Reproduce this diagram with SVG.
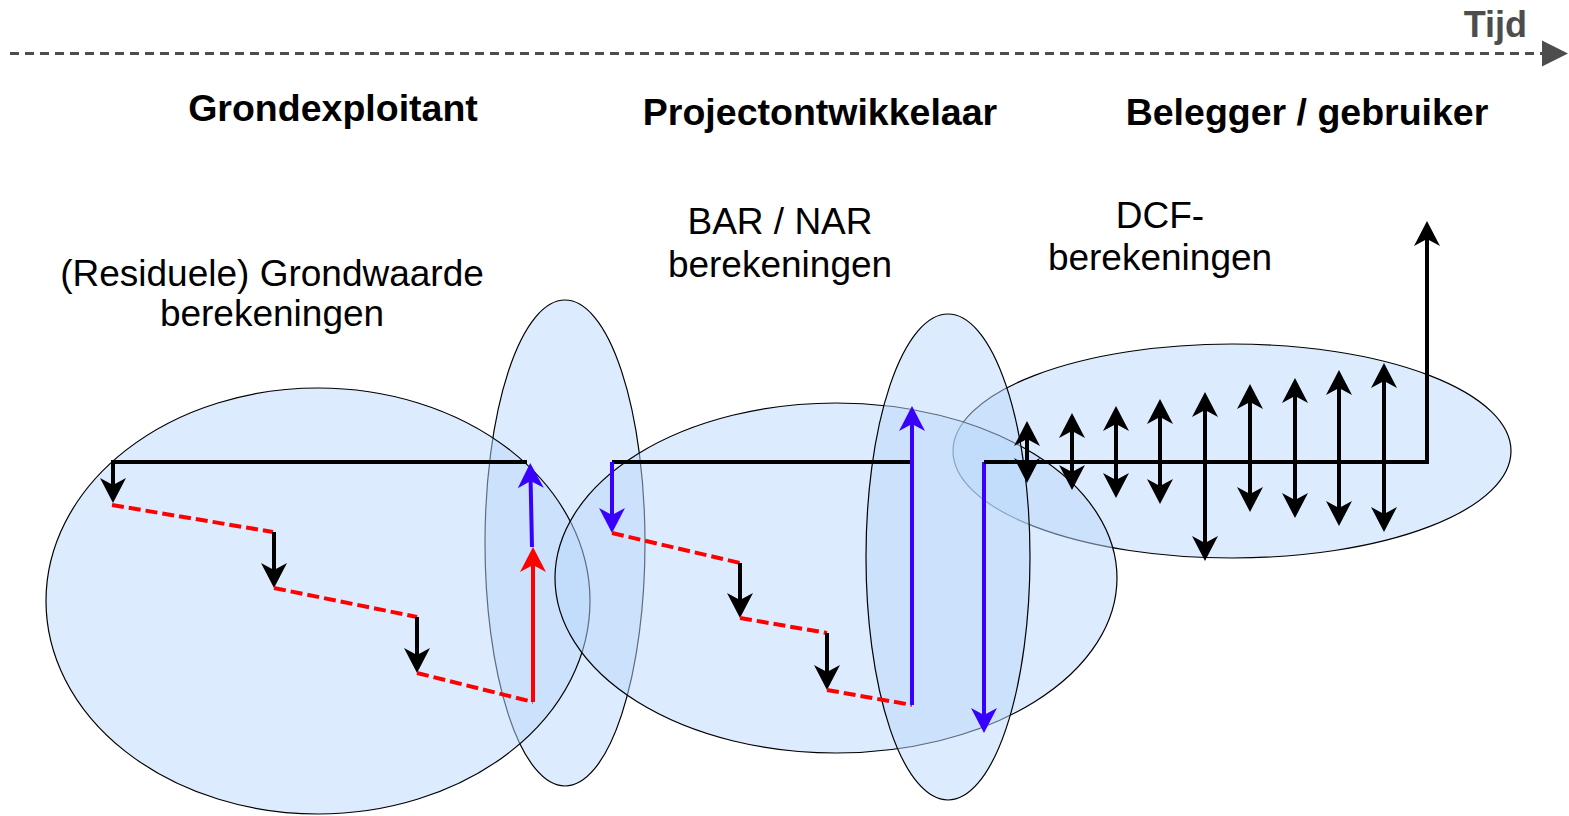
<svg xmlns="http://www.w3.org/2000/svg" width="1569" height="816" viewBox="0 0 1569 816">
<style>
.ell{fill:#b9d8fb;fill-opacity:0.5;stroke:#000;stroke-width:1.2}
.ln{fill:none;stroke-width:4}
.blk{stroke:#000}
.red{stroke:#ff0000}
.blu{stroke:#3700ff}
.dash{stroke:#ff0000;stroke-dasharray:12 5;fill:none;stroke-width:4}
.hd{font-family:"Liberation Sans",Arial,sans-serif;font-weight:bold;font-size:37.5px;text-anchor:middle;fill:#000}
.tx{font-family:"Liberation Sans",Arial,sans-serif;font-size:37px;text-anchor:middle;fill:#000}
</style>
<defs>
<marker id="ak" markerUnits="userSpaceOnUse" viewBox="-10 -15 30 30" markerWidth="30" markerHeight="30" refX="0" refY="0" orient="auto-start-reverse" overflow="visible"><path d="M18,0 L-7,-13 L0,0 L-7,13 Z" fill="#000"/></marker>
<marker id="ar" markerUnits="userSpaceOnUse" viewBox="-10 -15 30 30" markerWidth="30" markerHeight="30" refX="0" refY="0" orient="auto" overflow="visible"><path d="M18,0 L-7,-13 L0,0 L-7,13 Z" fill="#ff0000"/></marker>
<marker id="ab" markerUnits="userSpaceOnUse" viewBox="-10 -15 30 30" markerWidth="30" markerHeight="30" refX="0" refY="0" orient="auto" overflow="visible"><path d="M18,0 L-7,-13 L0,0 L-7,13 Z" fill="#3700ff"/></marker>
<marker id="at" markerUnits="userSpaceOnUse" viewBox="0 -14 28 28" markerWidth="28" markerHeight="28" refX="0" refY="0" orient="auto" overflow="visible"><path d="M0,-13 L26,0 L0,13 Z" fill="#4d4d4d"/></marker>
</defs>

<g id="timeline">
<line x1="10" y1="53.5" x2="1542" y2="53.5" stroke="#4d4d4d" stroke-width="3" stroke-dasharray="9 6" marker-end="url(#at)"/>
<text x="1527" y="37" font-family="Liberation Sans,Arial,sans-serif" font-weight="bold" font-size="36" fill="#4d4d4d" text-anchor="end">Tijd</text>
</g>

<g id="headings">
<text class="hd" x="333" y="121">Grondexploitant</text>
<text class="hd" x="820" y="125">Projectontwikkelaar</text>
<text class="hd" x="1307" y="125">Belegger / gebruiker</text>
</g>

<g id="labels">
<text class="tx" x="272" y="286">(Residuele) Grondwaarde</text>
<text class="tx" x="272" y="326">berekeningen</text>
<text class="tx" x="780" y="234">BAR / NAR</text>
<text class="tx" x="780" y="277">berekeningen</text>
<text class="tx" x="1160" y="228">DCF-</text>
<text class="tx" x="1160" y="270">berekeningen</text>
</g>

<g id="ellipses">
<ellipse id="e-belegger" class="ell" cx="1232" cy="451" rx="279" ry="107"/>
<ellipse id="e-overgang1" class="ell" cx="565" cy="543" rx="80" ry="243"/>
<ellipse id="e-grond" class="ell" cx="318" cy="601" rx="272" ry="213"/>
<ellipse id="e-project" class="ell" cx="836" cy="578" rx="281" ry="175"/>
<ellipse id="e-overgang2" class="ell" cx="948" cy="557" rx="82" ry="243"/>
</g>

<g id="connectors">
<path class="ln blk" d="M527,462 H113 V485" marker-end="url(#ak)"/>
<path class="dash" d="M112,505 L273,532"/>
<path class="ln blk" d="M274,532 V570" marker-end="url(#ak)"/>
<path class="dash" d="M274,588 L417,617"/>
<path class="ln blk" d="M417,617 V655" marker-end="url(#ak)"/>
<path class="dash" d="M417,673 L533,702"/>
<path class="ln red" d="M533,702 V565" marker-end="url(#ar)"/>
<path class="ln blu" d="M532,547 L530.6,481" marker-end="url(#ab)"/>
<path class="ln blk" d="M912,462 H612"/>
<path class="ln blu" d="M612,462 V515" marker-end="url(#ab)"/>
<path class="dash" d="M612,533 L740,563"/>
<path class="ln blk" d="M740,563 V600" marker-end="url(#ak)"/>
<path class="dash" d="M740,618 L827,633"/>
<path class="ln blk" d="M827,633 V672" marker-end="url(#ak)"/>
<path class="dash" d="M827,690 L912,705"/>
<path class="ln blu" d="M912,705 V424" marker-end="url(#ab)"/>
<path class="ln blu" d="M984,462 V715" marker-end="url(#ab)"/>
<path class="ln blk" d="M984,462 H1427 V239" marker-end="url(#ak)"/>
<path class="ln blk" d="M1027,439 V465" marker-start="url(#ak)" marker-end="url(#ak)"/>
<path class="ln blk" d="M1072,431 V472" marker-start="url(#ak)" marker-end="url(#ak)"/>
<path class="ln blk" d="M1116,424 V480" marker-start="url(#ak)" marker-end="url(#ak)"/>
<path class="ln blk" d="M1160,417 V486" marker-start="url(#ak)" marker-end="url(#ak)"/>
<path class="ln blk" d="M1205,410 V543" marker-start="url(#ak)" marker-end="url(#ak)"/>
<path class="ln blk" d="M1250,402 V494" marker-start="url(#ak)" marker-end="url(#ak)"/>
<path class="ln blk" d="M1295,396 V500" marker-start="url(#ak)" marker-end="url(#ak)"/>
<path class="ln blk" d="M1339,388 V508" marker-start="url(#ak)" marker-end="url(#ak)"/>
<path class="ln blk" d="M1384,381 V514" marker-start="url(#ak)" marker-end="url(#ak)"/>
</g>
</svg>
